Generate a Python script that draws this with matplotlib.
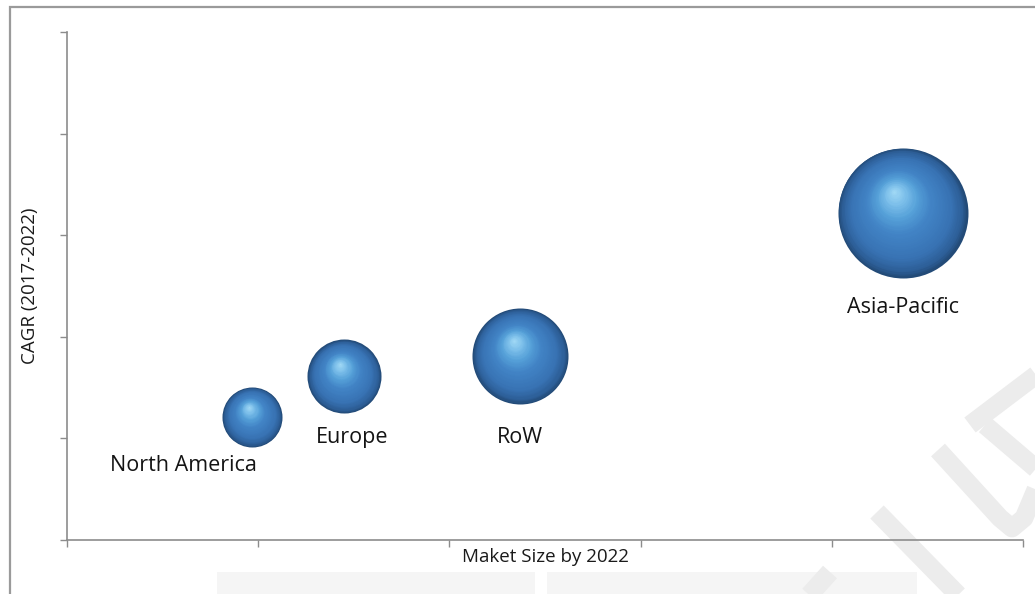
import matplotlib
matplotlib.use("Agg")
import matplotlib.pyplot as plt
import numpy as np
from matplotlib.colors import LinearSegmentedColormap
from matplotlib.transforms import ScaledTranslation
from matplotlib.patches import Rectangle
from matplotlib.lines import Line2D

# ---- data ----
regions = ["North America", "Europe", "RoW", "Asia-Pacific"]
market_size = [0.97, 1.45, 2.37, 4.37]
cagr = [1.21, 1.61, 1.81, 3.22]
bubble_size = [30, 37, 48, 65]
x_ticks = [0, 1, 2, 3, 4, 5]
y_ticks = [0, 1, 2, 3, 4, 5]

plt.rcParams['font.family'] = ['Open Sans', 'DejaVu Sans']

W, H = 1035, 594
fig = plt.figure(figsize=(W / 100, H / 100), dpi=100)
fig.patch.set_facecolor('white')

def fx(px):
    return px / W

def fy(py):
    return 1 - py / H

# watermark decoration (figure coords)
wm = '#ececec'
fig.add_artist(Rectangle((fx(217), fy(600)), fx(535) - fx(217), fy(572) - fy(600),
                         transform=fig.transFigure, facecolor='#f5f5f5', edgecolor='none', zorder=0))
fig.add_artist(Rectangle((fx(547), fy(600)), fx(917) - fx(547), fy(572) - fy(600),
                         transform=fig.transFigure, facecolor='#f5f5f5', edgecolor='none', zorder=0))
strokes = [
    [(877, 512), (965, 602)],
    [(938, 450), (1000, 518), (1012, 528), (1024, 518), (1040, 480)],
    [(970, 425), (1040, 372)],
    [(985, 425), (1040, 472)],
    [(803, 602), (830, 572)],
]
for s in strokes:
    xs = [fx(p[0]) for p in s]
    ys = [fy(p[1]) for p in s]
    fig.add_artist(Line2D(xs, ys, transform=fig.transFigure, color=wm, lw=13.5,
                          solid_capstyle='butt', solid_joinstyle='round', zorder=0))

# outer border
fig.add_artist(Rectangle((fx(10), -0.1), 1.2, fy(7) + 0.1, transform=fig.transFigure,
                         facecolor='none', edgecolor='#9a9a9a', lw=1.6, zorder=1))

ax = fig.add_axes([fx(67), fy(540), fx(1023) - fx(67), fy(32) - fy(540)])
ax.patch.set_alpha(0)
ax.set_xlim(x_ticks[0], x_ticks[-1])
ax.set_ylim(y_ticks[0], y_ticks[-1])
ax.set_xticks(x_ticks)
ax.set_yticks(y_ticks)
ax.set_xticklabels([])
ax.set_yticklabels([])
for sp in ['top', 'right']:
    ax.spines[sp].set_visible(False)
for sp in ['left', 'bottom']:
    ax.spines[sp].set_color('#8c8c8c')
    ax.spines[sp].set_linewidth(1.2)
ax.tick_params(axis='both', direction='out', length=5, color='#8c8c8c', width=1.0)

ax.set_xlabel("Maket Size by 2022", fontsize=13.5, color='#1a1a1a', labelpad=-3)
ax.set_ylabel("CAGR (2017-2022)", fontsize=13.5, color='#1a1a1a', labelpad=12)

# spherical bubbles
cmap = LinearSegmentedColormap.from_list('sph', [
    (0.0, '#234b78'), (0.07, '#2d5f98'), (0.22, '#3873b4'),
    (0.5, '#4284c6'), (0.68, '#55a0d8'), (0.84, '#7cbfea'), (1.0, '#a4dbf6')])
N = 45
hx, hy = -0.13, 0.33
for xi, yi, r in zip(market_size, cagr, bubble_size):
    R = r * 0.72  # radius in points
    for k in range(N):
        t = k / N
        rr = R * (1 - t)
        off = ScaledTranslation(hx * R * t / 72, hy * R * t / 72, fig.dpi_scale_trans)
        ax.scatter([xi], [yi], s=(2 * rr) ** 2, color=cmap(t), linewidths=0,
                   transform=ax.transData + off, zorder=3 + k * 0.001, clip_on=False)

# labels
label_off = [(-69, -48), (8, -61), (0, -81), (0, -95)]
for name, xi, yi, (dx, dy) in zip(regions, market_size, cagr, label_off):
    ax.annotate(name, (xi, yi), xytext=(dx * 0.72, dy * 0.72), textcoords='offset points',
                ha='center', va='center', fontsize=15.5, color='#141414', zorder=5)

fig.savefig('out.png', dpi=100)
